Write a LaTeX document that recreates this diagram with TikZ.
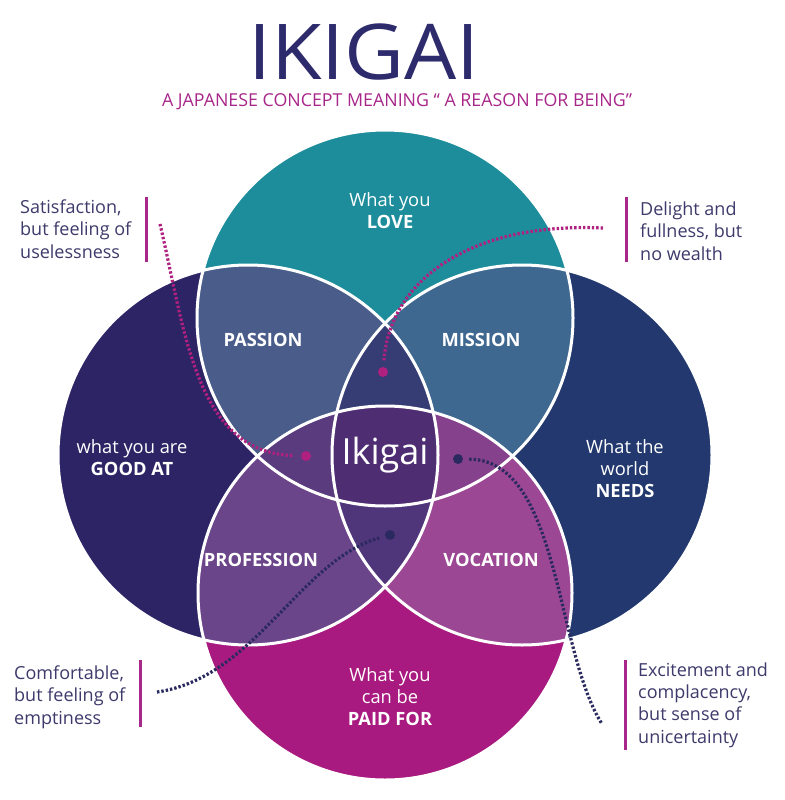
\documentclass[tikz,border=0pt]{standalone}
\usepackage{fontspec}
\setmainfont{Open Sans}
\definecolor{cTop}{HTML}{1E8D9B}
\definecolor{cLeft}{HTML}{2D2466}
\definecolor{cRight}{HTML}{22386E}
\definecolor{cBot}{HTML}{A81A7F}
\definecolor{cPass}{HTML}{4A5D8A}
\definecolor{cMiss}{HTML}{3F6890}
\definecolor{cProf}{HTML}{6B4589}
\definecolor{cVoc}{HTML}{9B4794}
\definecolor{cTLR}{HTML}{363C74}
\definecolor{cTLB}{HTML}{5A3C7E}
\definecolor{cTRB}{HTML}{86418D}
\definecolor{cBLR}{HTML}{4F3579}
\definecolor{cAll}{HTML}{4F2D72}
\definecolor{titleC}{HTML}{2E2B6D}
\definecolor{subC}{HTML}{A8278A}
\definecolor{noteC}{HTML}{3E3A6B}
\definecolor{barC}{HTML}{A8278A}
\definecolor{dotM}{HTML}{B0207F}
\definecolor{dotN}{HTML}{2A2A60}
\begin{document}
\begin{tikzpicture}[x=1pt,y=-1pt,
  lbl/.style={text=white, font=\fontsize{18.3}{22}\selectfont, align=center},
  seg/.style={text=white, font=\bfseries\fontsize{18.3}{21}\selectfont},
  note/.style={text=noteC, font=\fontsize{18}{22.3}\selectfont, align=left, anchor=west, inner sep=0pt},
  bar/.style={draw=barC, line width=3pt},
  dotsM/.style={draw=dotM, line width=3.2pt, dash pattern=on 2.4pt off 2pt},
  dotsN/.style={draw=dotN, line width=3.2pt, dash pattern=on 2.4pt off 2pt},
  ring/.style={draw=white, line width=3pt},
  spot/.style={circle, inner sep=0pt, minimum size=10pt}]
\useasboundingbox (0,0) rectangle (784,800);
\fill[white] (0,0) rectangle (784,800);
\def\Tc{(385,318) circle[radius=188pt]}
\def\Bc{(385,593) circle[radius=187pt]}
\def\Lc{(248,455) circle[radius=190pt]}
\def\Rc{(522,455) circle[radius=190pt]}
% base circles
\fill[cLeft] \Lc; \fill[cRight] \Rc; \fill[cTop] \Tc; \fill[cBot] \Bc;
% pairwise
\begin{scope}\clip \Tc; \fill[cPass] \Lc; \fill[cMiss] \Rc; \end{scope}
\begin{scope}\clip \Bc; \fill[cProf] \Lc; \fill[cVoc] \Rc; \end{scope}
% triples
\begin{scope}\clip \Tc; \clip \Lc; \fill[cTLR] \Rc; \fill[cTLB] \Bc; \end{scope}
\begin{scope}\clip \Tc; \clip \Rc; \fill[cTRB] \Bc; \end{scope}
\begin{scope}\clip \Bc; \clip \Lc; \fill[cBLR] \Rc; \end{scope}
\begin{scope}\clip \Tc; \clip \Bc; \clip \Lc; \fill[cAll] \Rc; \end{scope}
% outlines
\draw[ring] \Tc; \draw[ring] \Bc; \draw[ring] \Lc; \draw[ring] \Rc;

% title
\node[text=titleC, font=\fontsize{77}{80}\selectfont, anchor=base, inner sep=0pt] (title) at (364,79) {\scalebox{1.07}[1]{IKIGAI}};
\node[text=subC, font=\fontsize{17.8}{20}\selectfont, anchor=base, inner sep=0pt] (sub) at (397,106) {A JAPANESE CONCEPT MEANING “ A REASON FOR BEING”};

% circle labels
\node[lbl] (love) at (390,211) {What you\\\textbf{LOVE}};
\node[lbl] (good) at (132,458) {what you are\\\textbf{GOOD AT}};
\node[lbl] (needs) at (625,469) {What the\\world\\\textbf{NEEDS}};
\node[lbl] (paid) at (390,697) {What you\\can be\\\textbf{PAID FOR}};
\node[seg] (passion) at (263,340) {PASSION};
\node[seg] (mission) at (481,340) {MISSION};
\node[seg] (profession) at (261,560) {PROFESSION};
\node[seg] (vocation) at (491,560) {VOCATION};
\node[text=white, font=\fontsize{36}{40}\selectfont] (ikigai) at (385,455) {Ikigai};

% notes
\node[note] (n1) at (20,229) {Satisfaction,\\but feeling of\\uselessness};
\node[note] (n2) at (640,231) {Delight and\\fullness, but\\no wealth};
\node[note] (n3) at (14,697) {Comfortable,\\but feeling of\\emptiness};
\node[note] (n4) at (638,705) {Excitement and\\complacency,\\but sense of\\unicertainty};
\coordinate (b1a) at (146,197); \coordinate (b1b) at (146,262);
\coordinate (b2a) at (626,197); \coordinate (b2b) at (626,262);
\coordinate (b3a) at (140,660); \coordinate (b3b) at (140,727);
\coordinate (b4a) at (625,660); \coordinate (b4b) at (625,750);
\draw[bar] (b1a) -- (b1b);
\draw[bar] (b2a) -- (b2b);
\draw[bar] (b3a) -- (b3b);
\draw[bar] (b4a) -- (b4b);

% dotted connectors
\node[spot, fill=dotM] (d1) at (306,456) {};
\node[spot, fill=dotM] (d2) at (383,372) {};
\node[spot, fill=dotN] (d3) at (390,535) {};
\node[spot, fill=dotN] (d4) at (458,459) {};
\coordinate (s1) at (160,224);
\coordinate (s2) at (603,228);
\coordinate (s3) at (157,692);
\coordinate (s4) at (602,724);
\draw[dotsM, shorten >=8pt] (s1) .. controls (185,330) and (195,452) .. (d1);
\draw[dotsM, shorten >=6pt] (s2) .. controls (470,222) and (390,280) .. (d2);
\draw[dotsN, shorten >=6pt] (s3) .. controls (255,678) and (300,560) .. (d3);
\draw[dotsN, shorten <=6pt] (d4) .. controls (560,460) and (555,650) .. (s4);
\end{tikzpicture}
\end{document}
